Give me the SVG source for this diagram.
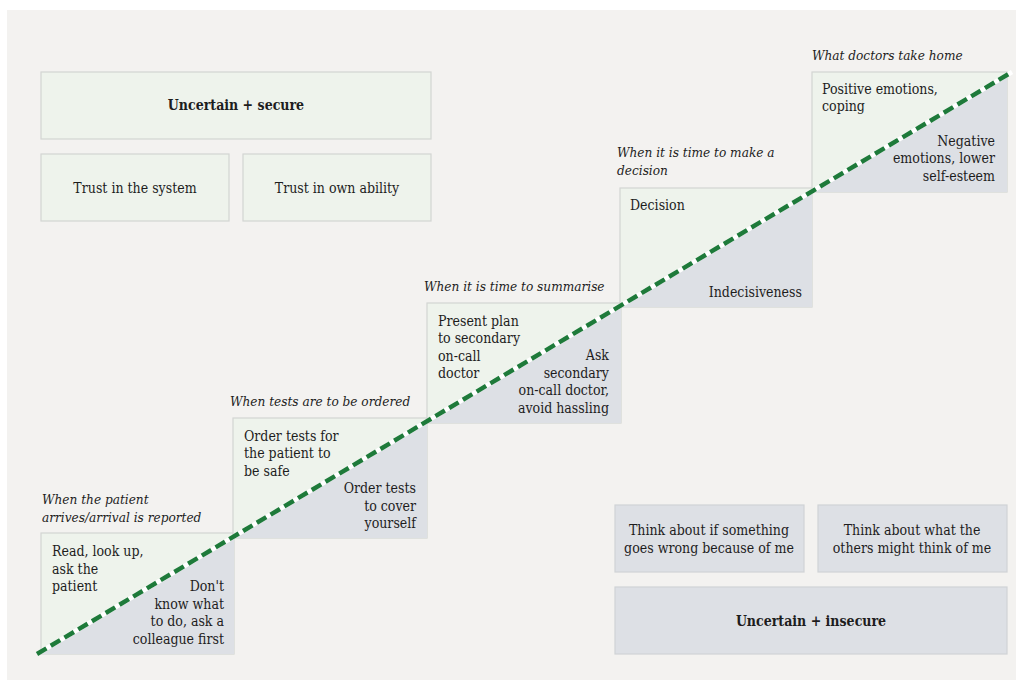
<svg xmlns="http://www.w3.org/2000/svg" width="1023" height="683" viewBox="0 0 1023 683">
<style>
.g{fill:#eef3ec;stroke:#d3d5d3;stroke-width:1.2}
.b{fill:#dde0e5;stroke:#d0d3d6;stroke-width:1.2}
.t{font-family:"DejaVu Serif Condensed","DejaVu Serif","Liberation Serif",serif;font-stretch:condensed;font-size:14px;fill:#1d1d1d}
.h{font-weight:bold;font-size:14px}
.c{text-anchor:middle}
.r{text-anchor:end}
.i{font-family:"DejaVu Serif Condensed","DejaVu Serif","Liberation Serif",serif;font-stretch:condensed;font-size:13.5px;font-style:italic;fill:#1d1d1d}
</style>
<rect width="1023" height="683" fill="#ffffff"/>
<rect x="7" y="10" width="1009" height="670" fill="#f3f2f0"/>

<g id="uncertain-secure"><rect class="g" x="41" y="72" width="390" height="67"/><text class="t h c" x="236" y="110">Uncertain + secure</text></g>
<g id="trust-system"><rect class="g" x="41" y="154" width="188" height="67"/><text class="t c" x="135" y="193">Trust in the system</text></g>
<g id="trust-ability"><rect class="g" x="243" y="154" width="188" height="67"/><text class="t c" x="337" y="193">Trust in own ability</text></g>

<g id="step1">
<text class="i" x="42" y="504">When the patient</text>
<text class="i" x="42" y="522">arrives/arrival is reported</text>
<rect class="g" x="41" y="533" width="193" height="121"/>
<polygon fill="#dde0e5" points="41,654 234,539 234,654"/>
<text class="t" x="52" y="556">Read, look up,</text>
<text class="t" x="52" y="574">ask the</text>
<text class="t" x="52" y="591">patient</text>
<text class="t r" x="224" y="591">Don't</text>
<text class="t r" x="224" y="609">know what</text>
<text class="t r" x="224" y="626">to do, ask a</text>
<text class="t r" x="224" y="644">colleague first</text>
</g>

<g id="step2">
<text class="i" x="230" y="406">When tests are to be ordered</text>
<rect class="g" x="233" y="418" width="194" height="120"/>
<polygon fill="#dde0e5" points="233,538 233,539 427,423 427,538"/>
<text class="t" x="244" y="441">Order tests for</text>
<text class="t" x="244" y="458">the patient to</text>
<text class="t" x="244" y="476">be safe</text>
<text class="t r" x="416" y="493">Order tests</text>
<text class="t r" x="416" y="511">to cover</text>
<text class="t r" x="416" y="528">yourself</text>
</g>

<g id="step3">
<text class="i" x="424" y="291">When it is time to summarise</text>
<rect class="g" x="427" y="303" width="194" height="120"/>
<polygon fill="#dde0e5" points="427,423 621,307 621,423"/>
<text class="t" x="438" y="326">Present plan</text>
<text class="t" x="438" y="343">to secondary</text>
<text class="t" x="438" y="361">on-call</text>
<text class="t" x="438" y="378">doctor</text>
<text class="t r" x="609" y="360">Ask</text>
<text class="t r" x="609" y="378">secondary</text>
<text class="t r" x="609" y="395">on-call doctor,</text>
<text class="t r" x="609" y="413">avoid hassling</text>
</g>

<g id="step4">
<text class="i" x="617" y="157">When it is time to make a</text>
<text class="i" x="617" y="175">decision</text>
<rect class="g" x="620" y="188" width="192" height="119"/>
<polygon fill="#dde0e5" points="620,307 812,192 812,307"/>
<text class="t" x="630" y="210">Decision</text>
<text class="t r" x="802" y="297">Indecisiveness</text>
</g>

<g id="step5">
<text class="i" x="812" y="60">What doctors take home</text>
<rect class="g" x="812" y="72" width="195" height="120"/>
<polygon fill="#dde0e5" points="812,192 1007,75 1007,192"/>
<text class="t" x="822" y="94">Positive emotions,</text>
<text class="t" x="822" y="111">coping</text>
<text class="t r" x="995" y="146">Negative</text>
<text class="t r" x="995" y="163">emotions, lower</text>
<text class="t r" x="995" y="181">self-esteem</text>
</g>

<g id="think-wrong"><rect class="b" x="615" y="505" width="189" height="67"/><text class="t c" x="709" y="535">Think about if something</text><text class="t c" x="709" y="553">goes wrong because of me</text></g>
<g id="think-others"><rect class="b" x="818" y="505" width="189" height="67"/><text class="t c" x="912" y="535">Think about what the</text><text class="t c" x="912" y="553">others might think of me</text></g>
<g id="uncertain-insecure"><rect class="b" x="615" y="587" width="392" height="67"/><text class="t h c" x="811" y="626">Uncertain + insecure</text></g>

<g id="connectors">
<line x1="37" y1="654" x2="1012" y2="72" stroke="#ffffff" stroke-width="4.5"/>
<line x1="37" y1="654" x2="1012" y2="72" stroke="#1e7a3a" stroke-width="4.5" stroke-dasharray="11,5"/>
</g>
</svg>
